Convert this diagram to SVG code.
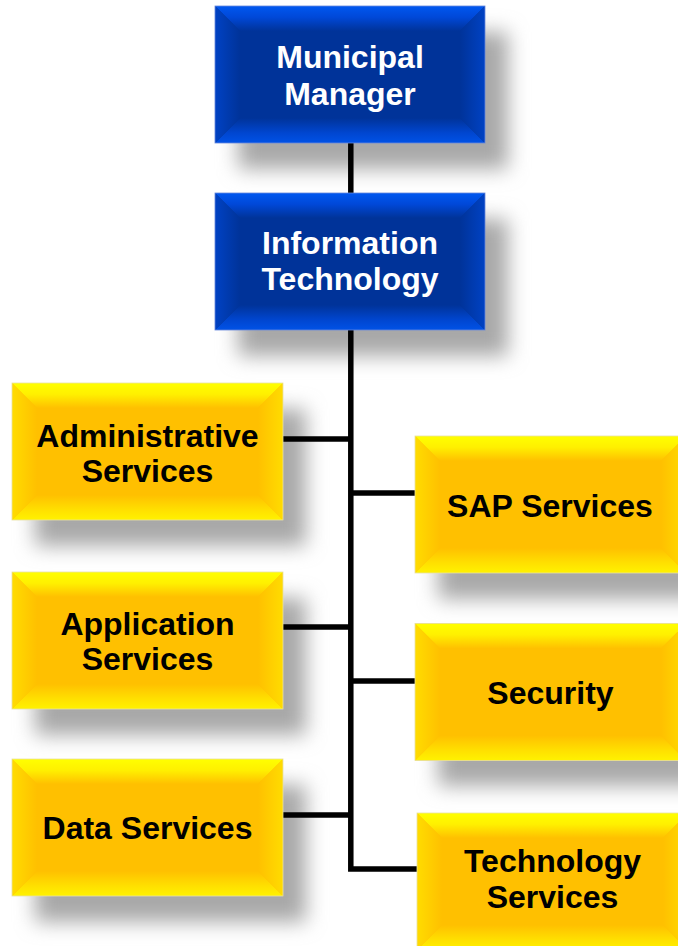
<svg xmlns="http://www.w3.org/2000/svg" xmlns:xlink="http://www.w3.org/1999/xlink" width="678" height="946" viewBox="0 0 678 946">
<defs>
<style>
.t{font-family:"Liberation Sans",Arial,sans-serif;font-weight:bold;font-size:32px;text-anchor:middle}
.w{fill:#ffffff}
.k{fill:#000000}
.sh{fill:#a8a8a8;filter:url(#blur)}
.ln{stroke:#000;stroke-width:5.5;fill:none;stroke-linejoin:miter;stroke-linecap:butt}
</style>
<filter id="blur" x="-25%" y="-40%" width="150%" height="180%"><feGaussianBlur stdDeviation="10"/></filter>
<linearGradient id="yt" x1="0" y1="0" x2="0" y2="1"><stop offset="0" stop-color="#ffff00"/><stop offset="0.45" stop-color="#fff000"/><stop offset="1" stop-color="#ffc000"/></linearGradient>
<linearGradient id="yb" x1="0" y1="1" x2="0" y2="0"><stop offset="0" stop-color="#fff200"/><stop offset="0.4" stop-color="#ffe000"/><stop offset="1" stop-color="#ffc000"/></linearGradient>
<linearGradient id="yl" x1="0" y1="0" x2="1" y2="0"><stop offset="0" stop-color="#ffdc00"/><stop offset="1" stop-color="#ffc000"/></linearGradient>
<linearGradient id="yr" x1="1" y1="0" x2="0" y2="0"><stop offset="0" stop-color="#ffdc00"/><stop offset="1" stop-color="#ffc000"/></linearGradient>
<linearGradient id="bt" x1="0" y1="0" x2="0" y2="1"><stop offset="0" stop-color="#0058f0"/><stop offset="0.45" stop-color="#0048d8"/><stop offset="1" stop-color="#003399"/></linearGradient>
<linearGradient id="bb" x1="0" y1="1" x2="0" y2="0"><stop offset="0" stop-color="#0052e6"/><stop offset="0.4" stop-color="#0046d0"/><stop offset="1" stop-color="#003399"/></linearGradient>
<linearGradient id="bl" x1="0" y1="0" x2="1" y2="0"><stop offset="0" stop-color="#0042c4"/><stop offset="1" stop-color="#003399"/></linearGradient>
<linearGradient id="br" x1="1" y1="0" x2="0" y2="0"><stop offset="0" stop-color="#0042c4"/><stop offset="1" stop-color="#003399"/></linearGradient>
<g id="ybox">
<rect x="0" y="0" width="271" height="137" fill="#ffc000"/>
<polygon points="0,0 271,0 246,25 25,25" fill="url(#yt)"/>
<polygon points="0,137 271,137 246,112 25,112" fill="url(#yb)"/>
<polygon points="0,0 25,25 25,112 0,137" fill="url(#yl)"/>
<polygon points="271,0 246,25 246,112 271,137" fill="url(#yr)"/>
<rect x="0" y="0" width="271" height="137" fill="none" stroke="#e8e0a0" stroke-width="0.8"/>
</g>
<g id="bbox">
<rect x="0" y="0" width="270" height="137" fill="#003399"/>
<polygon points="0,0 270,0 245,25 25,25" fill="url(#bt)"/>
<polygon points="0,137 270,137 245,112 25,112" fill="url(#bb)"/>
<polygon points="0,0 25,25 25,112 0,137" fill="url(#bl)"/>
<polygon points="270,0 245,25 245,112 270,137" fill="url(#br)"/>
<rect x="0" y="0" width="270" height="137" fill="none" stroke="#6688dd" stroke-width="0.8"/>
</g>
</defs>
<rect width="678" height="946" fill="#ffffff"/>
<g id="shadows">
<rect class="sh" x="238" y="32" width="270" height="137"/>
<rect class="sh" x="238" y="219" width="270" height="137"/>
<rect class="sh" x="35" y="409" width="271" height="137"/>
<rect class="sh" x="35" y="598" width="271" height="137"/>
<rect class="sh" x="35" y="785" width="271" height="137"/>
<rect class="sh" x="438" y="462" width="271" height="137"/>
<rect class="sh" x="438" y="649" width="271" height="137"/>
<rect class="sh" x="440" y="839" width="271" height="137"/>
</g>
<g id="connectors">
<path class="ln" d="M350.8,142 V194"/>
<path class="ln" d="M350.8,329 V869 H418"/>
<path class="ln" d="M282,439 H350.8"/>
<path class="ln" d="M350.8,493 H416"/>
<path class="ln" d="M282,627 H350.8"/>
<path class="ln" d="M350.8,681 H416"/>
<path class="ln" d="M282,815 H350.8"/>
</g>
<g id="municipal-manager">
<use xlink:href="#bbox" x="215" y="6"/>
<text class="t w" x="350" y="68">Municipal</text>
<text class="t w" x="350" y="105">Manager</text>
</g>
<g id="information-technology">
<use xlink:href="#bbox" x="215" y="193"/>
<text class="t w" x="350" y="254">Information</text>
<text class="t w" x="350" y="290">Technology</text>
</g>
<g id="administrative-services">
<use xlink:href="#ybox" x="12" y="383"/>
<text class="t k" x="147.5" y="447">Administrative</text>
<text class="t k" x="147.5" y="482">Services</text>
</g>
<g id="application-services">
<use xlink:href="#ybox" x="12" y="572"/>
<text class="t k" x="147.5" y="635">Application</text>
<text class="t k" x="147.5" y="670">Services</text>
</g>
<g id="data-services">
<use xlink:href="#ybox" x="12" y="759"/>
<text class="t k" x="147.5" y="839">Data Services</text>
</g>
<g id="sap-services">
<use xlink:href="#ybox" x="415" y="436"/>
<text class="t k" x="550" y="517">SAP Services</text>
</g>
<g id="security">
<use xlink:href="#ybox" x="415" y="623.5"/>
<text class="t k" x="550.5" y="704">Security</text>
</g>
<g id="technology-services">
<use xlink:href="#ybox" x="417" y="813"/>
<text class="t k" x="552.5" y="872">Technology</text>
<text class="t k" x="552.5" y="908">Services</text>
</g>
</svg>
